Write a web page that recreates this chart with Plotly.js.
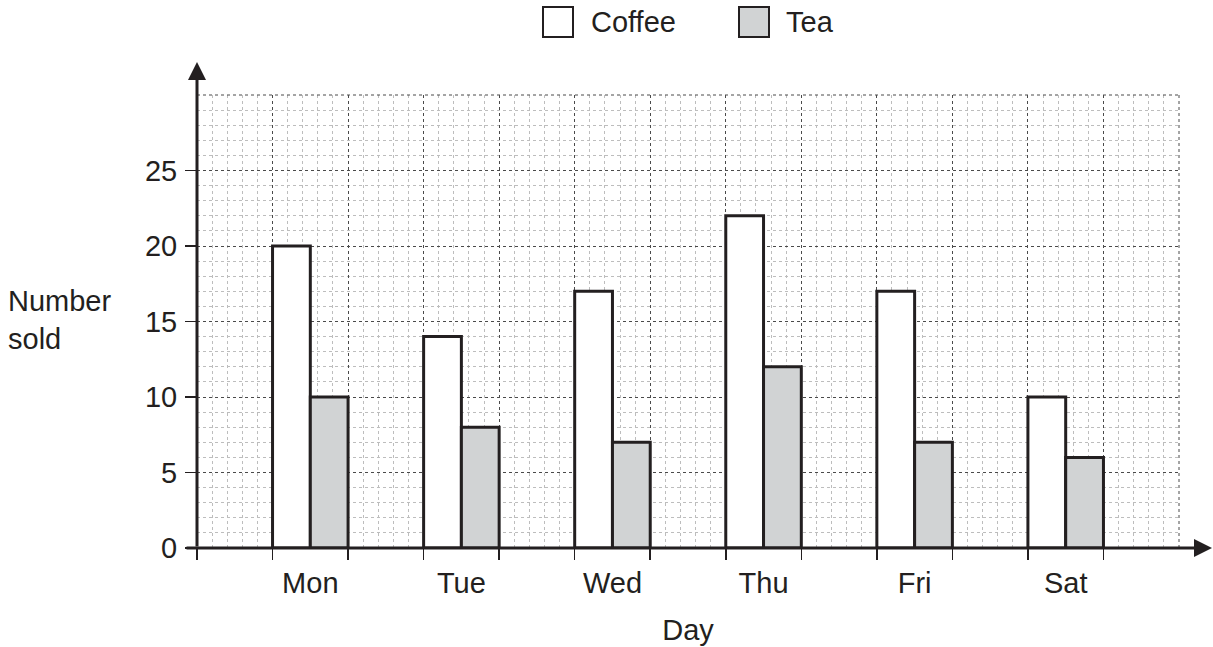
<!DOCTYPE html>
<html>
<head>
<meta charset="utf-8">
<script src="https://cdn.plot.ly/plotly-3.0.1.min.js"></script>
<style>html,body{margin:0;padding:0;background:#fff;}#chart{width:1213px;height:647px;}</style>
</head>
<body>
<div id="chart"></div>
<script>
// ---- data ----
const days = ["Mon", "Tue", "Wed", "Thu", "Fri", "Sat"];
const coffee = [20, 14, 17, 22, 17, 10];
const tea = [10, 8, 7, 12, 7, 6];
const seriesNames = ["Coffee", "Tea"];
const yTicks = [0, 5, 10, 15, 20, 25];
const xTitle = "Day";
const yTitle = "Number<br>sold";

const ink = "#231f20";
const font = {family: "Liberation Sans, Arial, sans-serif", size: 29, color: ink};

const traces = [
  {type: "bar", x: days, y: coffee, name: seriesNames[0],
   marker: {color: "#ffffff", line: {color: ink, width: 3}}, showlegend: false, hoverinfo: "skip"},
  {type: "bar", x: days, y: tea, name: seriesNames[1],
   marker: {color: "#d1d3d4", line: {color: ink, width: 3}}, showlegend: false, hoverinfo: "skip"},
  // invisible helper trace to keep the grid axis alive
  {type: "scatter", x: [0], y: [0], xaxis: "x2", mode: "markers", marker: {opacity: 0}, showlegend: false, hoverinfo: "skip"}
];

const P = (px) => (px - 197) / 982;   // pixel -> paper x
const Q = (py) => (548 - py) / 453;   // pixel -> paper y

const layout = {
  width: 1213, height: 647,
  margin: {l: 197, r: 34, t: 95, b: 99},
  paper_bgcolor: "#ffffff", plot_bgcolor: "#ffffff",
  font: font,
  barmode: "group", bargap: 0.5, bargroupgap: 0,
  showlegend: false,
  xaxis: {
    type: "category", range: [-0.75, 5.75], fixedrange: true,
    showgrid: false, zeroline: false, showline: false,
    ticks: "", ticklabelstandoff: 15, tickfont: font,
    title: {text: xTitle, font: font, standoff: 21}
  },
  xaxis2: {
    overlaying: "x", side: "bottom", range: [0, 13], fixedrange: true,
    tickvals: [0,1,2,3,4,5,6,7,8,9,10,11,12], showticklabels: false,
    ticks: "outside", ticklen: 11, tickwidth: 1.5, tickcolor: ink,
    showgrid: true, gridcolor: "#4a4a4a", gridwidth: 1, griddash: "dot",
    minor: {dtick: 0.2, showgrid: true, gridcolor: "#bdbdbd", gridwidth: 1, griddash: "dot", ticks: ""},
    zeroline: false, showline: false
  },
  yaxis: {
    range: [0, 30], fixedrange: true,
    tickvals: yTicks, ticks: "outside", ticklen: 11, tickwidth: 1.5, tickcolor: ink,
    tickfont: font, ticklabelstandoff: 2,
    showgrid: true, gridcolor: "#4a4a4a", gridwidth: 1, griddash: "dot",
    minor: {dtick: 1, showgrid: true, gridcolor: "#bdbdbd", gridwidth: 1, griddash: "dot", ticks: ""},
    zeroline: false, showline: false
  },
  shapes: [
    // grid border top & right
    {type: "line", xref: "paper", yref: "paper", x0: 0, x1: 1, y0: 1, y1: 1, line: {color: "#4a4a4a", width: 1, dash: "dot"}},
    {type: "line", xref: "paper", yref: "paper", x0: 1, x1: 1, y0: 0, y1: 1, line: {color: "#4a4a4a", width: 1, dash: "dot"}},
    // legend boxes
    {type: "rect", xref: "paper", yref: "paper", x0: P(543), x1: P(573), y0: Q(7), y1: Q(37), line: {color: ink, width: 2}, fillcolor: "#ffffff"},
    {type: "rect", xref: "paper", yref: "paper", x0: P(739), x1: P(769), y0: Q(7), y1: Q(37), line: {color: ink, width: 2}, fillcolor: "#d1d3d4"}
  ],
  annotations: [
    // x axis arrow
    {xref: "paper", yref: "paper", x: P(1213), y: 0, axref: "pixel", ayref: "pixel", ax: -(1213-185), ay: 0,
     showarrow: true, arrowhead: 2, arrowsize: 1.2, arrowwidth: 3, arrowcolor: ink, text: ""},
    // y axis arrow
    {xref: "paper", yref: "paper", x: 0, y: Q(62), axref: "pixel", ayref: "pixel", ax: 0, ay: (548-62),
     showarrow: true, arrowhead: 2, arrowsize: 1.2, arrowwidth: 3, arrowcolor: ink, text: ""},
    // y title
    {xref: "paper", yref: "paper", x: P(6), y: Q(320), xanchor: "left", yanchor: "middle",
     align: "left", showarrow: false, text: yTitle, font: font},
    // legend texts
    {xref: "paper", yref: "paper", x: P(589), y: Q(22), xanchor: "left", yanchor: "middle",
     showarrow: false, text: seriesNames[0], font: font},
    {xref: "paper", yref: "paper", x: P(784), y: Q(22), xanchor: "left", yanchor: "middle",
     showarrow: false, text: seriesNames[1], font: font}
  ]
};

Plotly.newPlot("chart", traces, layout, {staticPlot: true, displayModeBar: false});
</script>
</body>
</html>
